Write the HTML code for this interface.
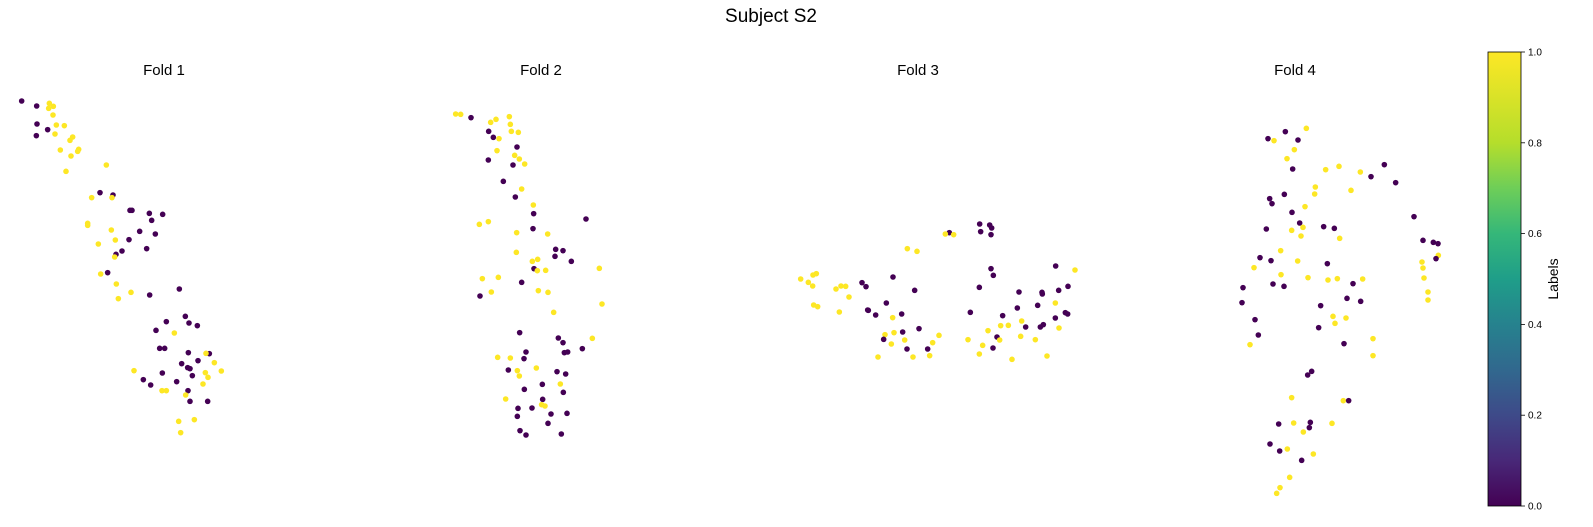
<!DOCTYPE html>
<html><head><meta charset="utf-8">
<style>
body{margin:0;background:#fff;}
svg{display:block;font-family:"Liberation Sans","DejaVu Sans",sans-serif;}
</style></head>
<body>
<svg id="chart" width="1593" height="527" viewBox="0 0 1593 527" xmlns="http://www.w3.org/2000/svg">
<defs>
<linearGradient id="viridis" x1="0" y1="1" x2="0" y2="0">
<stop offset="0" stop-color="#440154"/><stop offset="0.1" stop-color="#482878"/><stop offset="0.2" stop-color="#3e4a89"/><stop offset="0.3" stop-color="#31688e"/><stop offset="0.4" stop-color="#26828e"/><stop offset="0.5" stop-color="#1f9e89"/><stop offset="0.6" stop-color="#35b779"/><stop offset="0.7" stop-color="#6ece58"/><stop offset="0.8" stop-color="#b5de2b"/><stop offset="1" stop-color="#fde725"/>
</linearGradient>
</defs>
<text x="771" y="22" font-size="19" text-anchor="middle" fill="#000">Subject S2</text>
<text x="164" y="75" font-size="15" text-anchor="middle">Fold 1</text>
<text x="541" y="75" font-size="15" text-anchor="middle">Fold 2</text>
<text x="918" y="75" font-size="15" text-anchor="middle">Fold 3</text>
<text x="1295" y="75" font-size="15" text-anchor="middle">Fold 4</text>
<rect x="1488" y="52" width="33" height="454" fill="url(#viridis)" stroke="#000" stroke-width="0.8"/>
<g id="cbticks"></g>
<text transform="translate(1558,279) rotate(-90)" font-size="14" text-anchor="middle">Labels</text>
<g id="points"></g>
</svg>
<script>
const fold1X=[65,110,148,146,160,159,111,143,169,193,109,165,218,210,181,236,233,213,319,198,300,339,275,336,390,396,448,488,455,263,263,419,466,334,387,346,295,440,366,348,344,323,302,349,538,393,449,355,556,499,567,592,468,523,479,494,565,628,618,643,594,545,563,570,402,487,664,616,624,577,430,530,609,452,486,499,564,557,570,623,536,583,542];
const fold1Y=[48,63,55,70,64,90,117,134,120,122,152,147,156,166,195,193,199,213,240,259,323,330,338,338,376,376,385,388,406,415,421,439,447,435,464,465,477,491,498,508,516,563,567,597,612,622,630,641,694,710,714,722,736,744,790,790,803,806,805,833,827,836,848,851,857,864,858,863,877,872,884,890,897,900,917,917,917,930,949,949,1009,1004,1043];
const fold1L=[0,0,1,1,1,1,0,0,1,1,0,1,1,1,1,1,1,1,1,1,0,0,1,1,0,0,0,0,0,1,1,0,0,1,0,1,1,0,0,0,1,0,1,1,0,1,0,1,0,0,0,0,0,1,0,0,0,0,1,1,0,0,0,0,1,0,1,1,1,0,0,0,1,0,1,1,0,1,0,0,1,1,1];
const fold2X=[77,92,123,182,198,238,241,176,244,265,190,207,261,201,254,268,175,249,284,220,275,256,310,311,468,148,175,309,260,353,377,399,375,259,424,307,323,312,322,347,508,157,205,275,150,184,325,354,516,371,269,385,399,487,457,288,403,413,203,241,282,235,262,319,268,381,407,337,391,283,400,227,338,335,345,264,306,363,411,262,354,270,288,394];
const fold2Y=[42,43,53,67,58,50,73,94,94,97,112,116,141,152,166,177,180,195,192,244,267,291,315,341,357,373,365,386,398,402,448,452,469,457,484,484,478,506,512,511,505,536,532,547,588,576,572,577,612,637,698,714,728,715,746,756,758,756,772,774,776,810,812,804,828,815,822,853,852,868,877,897,898,914,918,925,924,942,940,949,970,992,1005,1002];
const fold2L=[1,1,0,1,1,1,1,0,1,1,0,1,0,1,1,1,0,0,1,0,1,0,1,0,0,1,1,0,1,1,0,0,0,1,0,1,1,0,1,1,1,1,1,0,0,1,1,1,1,1,0,0,0,1,0,0,0,0,1,1,0,0,1,1,1,0,0,0,1,0,0,1,0,1,1,0,0,0,0,0,0,0,0,0];
const fold3X=[629,659,665,632,663,538,526,551,412,441,663,670,857,369,92,129,139,115,128,276,288,198,213,227,628,434,747,816,817,866,894,237,349,131,143,293,295,208,317,601,742,803,856,886,893,395,368,698,856,755,692,715,767,811,820,867,447,398,372,345,654,507,681,752,341,404,594,689,796,488,364,638,411,473,669,324,429,479,628,726,831,915];
const fold3Y=[42,45,54,65,74,68,72,74,116,124,176,196,168,201,207,195,191,217,228,218,230,237,228,229,232,241,246,247,252,241,229,261,279,285,290,300,301,306,315,307,294,286,279,308,312,312,323,317,324,333,347,346,351,351,344,354,356,366,368,374,362,376,381,379,388,390,389,390,389,398,402,406,417,417,414,441,441,437,432,448,438,180];
const fold3L=[0,0,0,0,0,0,1,1,1,1,0,0,0,0,1,1,1,1,1,0,0,1,1,1,0,0,0,0,0,0,0,1,0,1,1,0,0,1,0,0,0,0,1,0,0,0,1,0,0,1,1,1,0,0,0,1,0,0,1,1,1,1,0,1,0,1,1,1,1,1,1,1,0,0,0,1,1,1,1,1,1,1];
const fold4X=[174,226,289,192,264,253,231,248,347,387,451,523,483,557,316,314,423,179,186,223,285,246,612,269,279,169,245,341,373,273,389,639,670,684,685,678,212,150,183,263,352,132,213,294,354,382,458,429,189,222,99,411,452,96,332,369,408,375,135,326,145,402,120,489,489,305,293,245,400,416,206,251,301,298,366,280,180,209,232,310,275,239,210,200,636,639,642,654,654];
const fold4Y=[71,50,40,77,75,104,131,162,164,154,171,149,185,203,216,237,226,251,266,238,275,292,305,324,337,342,346,335,340,363,370,376,382,386,421,431,407,428,437,438,446,458,479,488,495,491,492,506,507,514,518,550,559,563,572,604,609,625,614,638,660,686,689,671,722,769,780,848,857,857,927,924,922,938,925,951,987,1008,1002,1017,1036,1087,1118,1135,441,459,489,531,555];
const fold4L=[0,0,1,1,0,1,1,0,1,1,1,0,0,0,1,1,1,0,0,0,1,0,0,0,1,0,1,0,0,1,1,0,0,0,1,0,1,0,0,1,0,1,1,1,1,1,1,0,0,0,0,0,0,0,0,1,1,1,0,0,0,0,1,1,1,0,0,1,1,0,0,1,0,0,1,1,0,0,1,1,0,1,1,1,1,1,1,1,1];
const colorbarTicks=[0,0.2,0.4,0.6,0.8,1.0];

const NS='http://www.w3.org/2000/svg';
const origins=[[0,85],[430,100],[770,210],[1210,115]];
function sx(f,v){return origins[f][0]+v/3;}
function sy(f,v){return origins[f][1]+v/3;}
function cbY(v){return 506-v*454;}
function color(l){return l>=0.5?'#fde725':'#440154';}

const g=document.getElementById('points');
const folds=[[fold1X,fold1Y,fold1L],[fold2X,fold2Y,fold2L],[fold3X,fold3Y,fold3L],[fold4X,fold4Y,fold4L]];
folds.forEach(function(fd,f){
  const n=Math.min(fd[0].length,fd[1].length,fd[2].length);
  for(let i=0;i<n;i++){
    const c=document.createElementNS(NS,'circle');
    c.setAttribute('cx',sx(f,fd[0][i]));
    c.setAttribute('cy',sy(f,fd[1][i]));
    c.setAttribute('r',2.8);
    c.setAttribute('fill',color(fd[2][i]));
    
    
    g.appendChild(c);
  }
});
const tg=document.getElementById('cbticks');
colorbarTicks.forEach(function(t){
  const y=cbY(t);
  const ln=document.createElementNS(NS,'line');
  ln.setAttribute('x1',1521);ln.setAttribute('x2',1525);
  ln.setAttribute('y1',y);ln.setAttribute('y2',y);
  ln.setAttribute('stroke','#000');ln.setAttribute('stroke-width','0.8');
  
  
  tg.appendChild(ln);
  const tx=document.createElementNS(NS,'text');
  tx.setAttribute('x',1528);tx.setAttribute('y',y+3.5);
  tx.setAttribute('font-size','10');
  tx.textContent=t.toFixed(1);
  
  
  tg.appendChild(tx);
});
</script>
</body></html>
